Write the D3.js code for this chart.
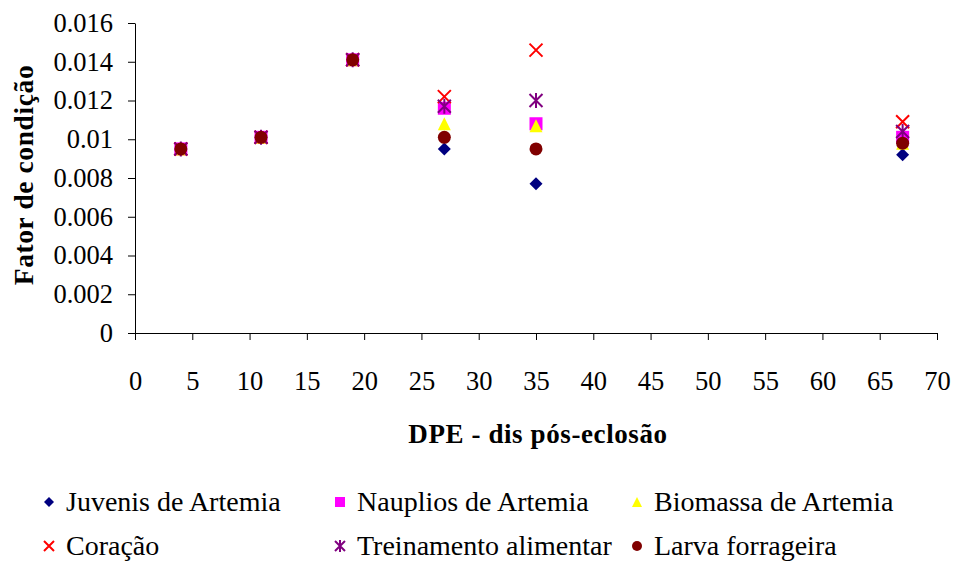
<!DOCTYPE html>
<html>
<head>
<meta charset="utf-8">
<script src="https://cdn.jsdelivr.net/npm/d3@7"></script>
<style>
  html, body { margin: 0; padding: 0; background: #fff; }
  svg { display: block; }
  svg text { font-family: "Liberation Serif", "Times New Roman", Times, "DejaVu Serif", serif; fill: #000; }
</style>
</head>
<body>
<svg id="chart" width="957" height="561"></svg>
<script>
// Days post-hatching at which each group was sampled
const days = [4, 11, 19, 27, 35, 67];

// Condition factor per feeding treatment
const juvenis      = [0.0095, 0.0101, 0.0141, 0.0095, 0.0077, 0.0092];
const nauplios     = [0.0095, 0.0101, 0.0141, 0.0116, 0.0108, 0.0101];
const biomassa     = [0.0095, 0.0101, 0.0141, 0.0108, 0.0107, 0.0098];
const coracao      = [0.0095, 0.0101, 0.0141, 0.0122, 0.0146, 0.0109];
const treinamento  = [0.0095, 0.0101, 0.0141, 0.0117, 0.0120, 0.0104];
const larva        = [0.0095, 0.0101, 0.0141, 0.0101, 0.0095, 0.0098];

const xTicks = [0, 5, 10, 15, 20, 25, 30, 35, 40, 45, 50, 55, 60, 65, 70];
const yTicks = [0, 0.002, 0.004, 0.006, 0.008, 0.01, 0.012, 0.014, 0.016];

const series = [
  { name: "Juvenis de Artemia",    values: juvenis,     color: "#000080", shape: "diamond" },
  { name: "Nauplios de Artemia",   values: nauplios,    color: "#FF00FF", shape: "square" },
  { name: "Biomassa de Artemia",   values: biomassa,    color: "#FFFF00", shape: "triangle" },
  { name: "Coração",               values: coracao,     color: "#FF0000", shape: "cross" },
  { name: "Treinamento alimentar", values: treinamento, color: "#800080", shape: "asterisk" },
  { name: "Larva forrageira",      values: larva,       color: "#800000", shape: "circle" }
];

const svg = d3.select("#chart");
const x = d3.scaleLinear().domain([0, 70]).range([135, 937]);
const y = d3.scaleLinear().domain([0, 0.016]).range([333, 23]);

// Axes
const xAxis = d3.axisBottom(x).tickValues(xTicks).tickSize(7).tickSizeOuter(0).tickPadding(31)
  .tickFormat(d3.format("d"));
const yAxis = d3.axisLeft(y).tickValues(yTicks).tickSize(7).tickSizeOuter(0).tickPadding(15)
  .tickFormat(d => d === 0 ? "0" : String(+d.toFixed(3)));

const gx = svg.append("g").attr("transform", `translate(0,${y(0)})`).call(xAxis);
const gy = svg.append("g").attr("transform", `translate(${x(0)},0)`).call(yAxis);
[gx, gy].forEach(g => {
  g.attr("font-family", null).attr("font-size", null);
  g.selectAll("path, line").attr("stroke", "#000").attr("stroke-width", 1);
  g.selectAll("text").attr("fill", "#000").style("font-size", "26.5px");
});

// Axis titles
svg.append("text")
  .attr("x", 538).attr("y", 443)
  .attr("text-anchor", "middle")
  .style("font-size", "27px").style("font-weight", "bold").style("letter-spacing", "0.6px")
  .text("DPE - dis pós-eclosão");

svg.append("text")
  .attr("transform", "translate(33,175) rotate(-90)")
  .attr("text-anchor", "middle")
  .style("font-size", "27.5px").style("font-weight", "bold").style("letter-spacing", "0.6px")
  .text("Fator de condição");

// Marker drawing
function drawMarker(g, shape, color, s) {
  const h = s / 2;
  switch (shape) {
    case "diamond":
      g.append("path").attr("d", `M0,${-h}L${h},0L0,${h}L${-h},0Z`).attr("fill", color);
      break;
    case "square":
      g.append("rect").attr("x", -h).attr("y", -h).attr("width", s).attr("height", s).attr("fill", color);
      break;
    case "triangle":
      g.append("path").attr("d", `M0,${-h}L${h},${h}L${-h},${h}Z`).attr("fill", color);
      break;
    case "circle":
      g.append("circle").attr("r", h).attr("fill", color);
      break;
    case "cross":
      g.append("path").attr("d", `M${-h},${-h}L${h},${h}M${-h},${h}L${h},${-h}`)
        .attr("stroke", color).attr("stroke-width", 2).attr("fill", "none");
      break;
    case "asterisk":
      g.append("path").attr("d", `M${-h},${-h}L${h},${h}M${-h},${h}L${h},${-h}M0,${-h - 1}L0,${h + 1}`)
        .attr("stroke", color).attr("stroke-width", 2).attr("fill", "none");
      break;
  }
}

// Data points
const plot = svg.append("g");
series.forEach(sr => {
  sr.values.forEach((v, i) => {
    const g = plot.append("g").attr("transform", `translate(${x(days[i])},${y(v)})`);
    drawMarker(g, sr.shape, sr.color, 13);
  });
});

// Legend
const legendPos = [
  [49, 502], [340, 502], [637, 502],
  [49, 546], [340, 546], [637, 546]
];
series.forEach((sr, i) => {
  const [lx, ly] = legendPos[i];
  const g = svg.append("g").attr("transform", `translate(${lx},${ly})`);
  drawMarker(g, sr.shape, sr.color, 10);
  g.append("text").attr("x", 17).attr("y", 9)
    .style("font-size", "28px").text(sr.name);
});
</script>
</body>
</html>
